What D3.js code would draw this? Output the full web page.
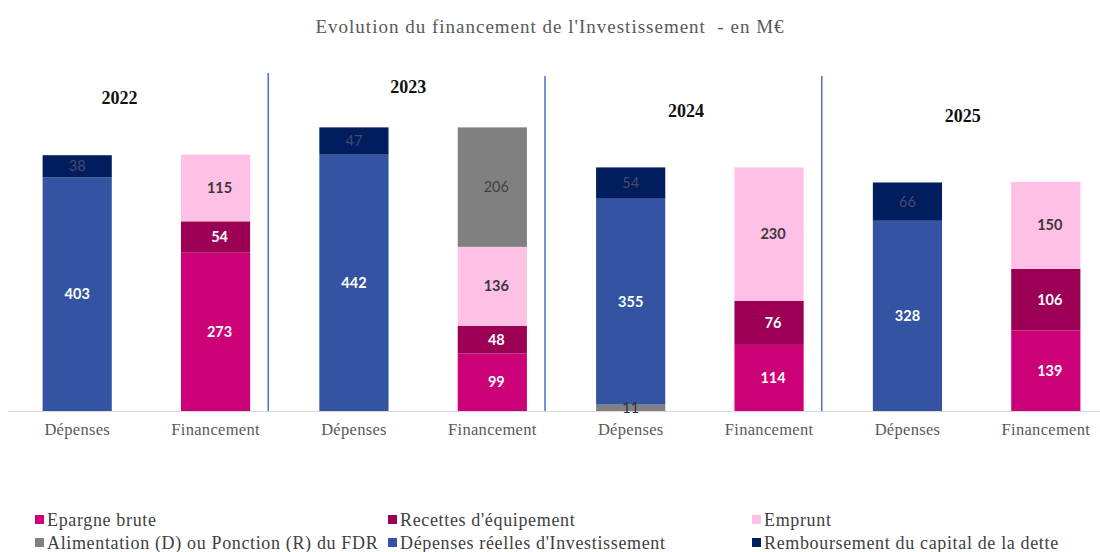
<!DOCTYPE html>
<html>
<head>
<meta charset="utf-8">
<script src="https://cdn.jsdelivr.net/npm/d3@7"></script>
<style>
    body { margin: 0; background: #fff; }
    svg { display: block; }
</style>
</head>
<body>
<div id="chart"></div>
<script>
// Data (M€)
var years = ["2022", "2023", "2024", "2025"];
var columnKinds = ["Dépenses", "Financement"];

var epargneBrute = [273, 99, 114, 139];
var recettesEquipement = [54, 48, 76, 106];
var emprunt = [115, 136, 230, 150];
var fdrFinancement = [0, 206, 0, 0];
var fdrDepenses = [0, 0, 11, 0];
var depensesReelles = [403, 442, 355, 328];
var remboursement = [38, 47, 54, 66];

var legendLabels = [
    "Epargne brute",
    "Recettes d'équipement",
    "Emprunt",
    "Alimentation (D) ou Ponction (R) du FDR",
    "Dépenses réelles d'Investissement",
    "Remboursement du capital de la dette",
];

var width = 1100,
    height = 552,
    margin = {top: 63, right: -15, bottom: 141, left: 8},
    serif = "'Liberation Serif', 'Times New Roman', serif";

// year title layout (manual text boxes in the original)
var yearTitleY = [98, 87, 111, 116],
    yearTitleDx = [-27, -15, -14, -14];

var colors = {
    epargne: "#cc0077",
    recettes: "#9b0055",
    emprunt: "#ffc0e6",
    fdr: "#808080",
    depenses: "#3454a3",
    remb: "#001d5e",
};

// segment definitions, bottom to top, per column kind
let segmentsFor = (kind, i) => {
    if (kind === "Dépenses") {
        return [
            {key: "fdr", value: fdrDepenses[i], text: "#333333", bold: false},
            {key: "depenses", value: depensesReelles[i], text: "#ffffff", bold: true},
            {key: "remb", value: remboursement[i], text: "#4a4a6e", bold: false},
        ];
    }
    return [
        {key: "epargne", value: epargneBrute[i], text: "#ffffff", bold: true},
        {key: "recettes", value: recettesEquipement[i], text: "#ffffff", bold: true},
        {key: "emprunt", value: emprunt[i], text: "#3a3a3a", bold: true},
        {key: "fdr", value: fdrFinancement[i], text: "#404040", bold: false},
    ];
};

let columns = [];
years.forEach((year, i) => {
    columnKinds.forEach(kind => {
        let y0 = 0;
        let segs = segmentsFor(kind, i)
            .filter(s => s.value > 0)
            .map(s => {
                let seg = Object.assign({}, s, {y0: y0, y1: y0 + s.value, kind: kind});
                y0 += s.value;
                return seg;
            });
        columns.push({id: year + "-" + kind, year: year, kind: kind, segs: segs});
    });
});

let svg = d3.select("#chart")
    .append("svg")
    .attr("width", width)
    .attr("height", height);

let x = d3.scaleBand()
    .domain(columns.map(d => d.id))
    .range([margin.left, width - margin.right])
    .paddingInner(0.5)
    .paddingOuter(0.25);

let y = d3.scaleLinear()
    .domain([0, 600])
    .range([height - margin.bottom, margin.top]);

// Title
svg.append("text")
    .attr("x", width / 2)
    .attr("y", 33)
    .attr("text-anchor", "middle")
    .style("font-family", serif)
    .style("font-size", "19px")
    .style("letter-spacing", "1px")
    .style("white-space", "pre")
    .attr("fill", "#595959")
    .text("Evolution du financement de l'Investissement  - en M€");

// X axis
let xAxis = svg.append("g")
    .attr("transform", `translate(0, ${y(0)})`)
    .call(d3.axisBottom(x).tickSize(0).tickFormat(id => id.split("-")[1]));

xAxis.select(".domain")
    .attr("stroke", "#d9d9d9")
    .attr("d", `M${margin.left},0.5H${width}`);

xAxis.selectAll("text")
    .attr("dy", "1.05em")
    .attr("y", 7)
    .style("font-family", serif)
    .style("font-size", "16.5px")
    .style("letter-spacing", "0.3px")
    .attr("fill", "#595959");

// Bars
let bars = svg.append("g")
    .selectAll("g")
    .data(columns)
    .join("g")
    .attr("transform", d => `translate(${x(d.id)}, 0)`);

bars.selectAll("rect")
    .data(d => d.segs)
    .join("rect")
    .attr("x", 0)
    .attr("width", x.bandwidth())
    .attr("y", d => y(d.y1))
    .attr("height", d => y(d.y0) - y(d.y1))
    .attr("fill", d => colors[d.key]);

bars.selectAll("text")
    .data(d => d.segs)
    .join("text")
    .attr("x", d => x.bandwidth() / 2 + (d.kind === "Financement" ? 4 : 0))
    .attr("y", d => Math.min((y(d.y0) + y(d.y1)) / 2, y(0) - 2))
    .attr("dy", "0.35em")
    .attr("text-anchor", "middle")
    .style("font-family", "Lato, sans-serif")
    .style("font-size", "14.5px")
    .style("font-weight", d => d.bold ? "bold" : "normal")
    .attr("fill", d => d.text)
    .text(d => d.value);

// Year separators
let step = x.step();
let separators = years.slice(1).map((yr, i) => x(yr + "-Dépenses") - step * 0.25 - 16.5);

svg.append("g")
    .selectAll("line")
    .data(separators)
    .join("line")
    .attr("x1", d => d)
    .attr("x2", d => d)
    .attr("y1", (d, i) => i === 0 ? 73 : 76)
    .attr("y2", y(0))
    .attr("stroke", "#4a72c0")
    .attr("stroke-width", 1.5);

// Year titles
svg.append("g")
    .selectAll("text")
    .data(years)
    .join("text")
    .attr("x", (d, i) => (x(d + "-Dépenses") + x(d + "-Financement") + x.bandwidth()) / 2 + yearTitleDx[i])
    .attr("y", (d, i) => yearTitleY[i])
    .attr("dy", "0.35em")
    .attr("text-anchor", "middle")
    .style("font-family", serif)
    .style("font-size", "18px")
    .style("font-weight", "bold")
    .attr("fill", "#111")
    .text(d => d);

// Legend
let legendKeys = ["epargne", "recettes", "emprunt", "fdr", "depenses", "remb"];
let legendCols = [35, 388, 752],
    legendRows = [520, 543];

let legend = svg.append("g")
    .selectAll("g")
    .data(legendKeys)
    .join("g")
    .attr("transform", (d, i) => `translate(${legendCols[i % 3]}, ${legendRows[Math.floor(i / 3)]})`);

legend.append("rect")
    .attr("x", 0)
    .attr("y", -5)
    .attr("width", 9)
    .attr("height", 9)
    .attr("fill", d => colors[d]);

legend.append("text")
    .attr("x", 12)
    .attr("y", 0)
    .attr("dy", "0.32em")
    .style("font-family", serif)
    .style("font-size", "18px")
    .style("letter-spacing", "0.65px")
    .attr("fill", "#404040")
    .text((d, i) => legendLabels[i]);
</script>
</body>
</html>
